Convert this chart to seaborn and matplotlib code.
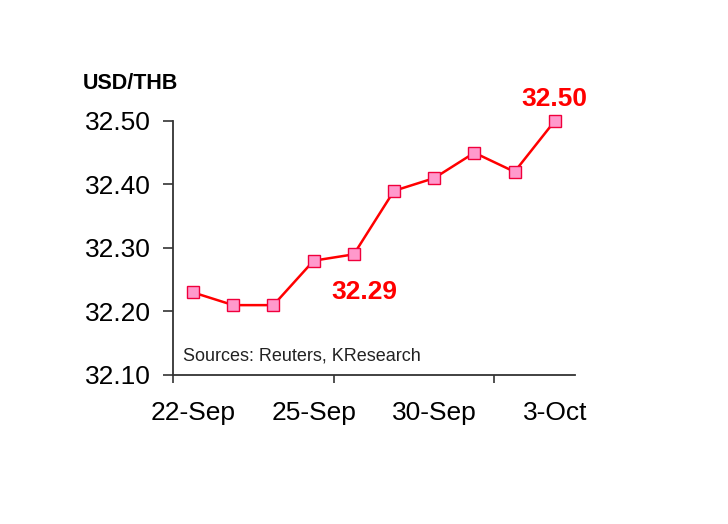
import numpy as np
import pandas as pd
import matplotlib
matplotlib.use("Agg")
import matplotlib.pyplot as plt
import seaborn as sns

# Datos USD/THB
fechas = ["22-Sep", "23-Sep", "24-Sep", "25-Sep", "26-Sep",
          "29-Sep", "30-Sep", "1-Oct", "2-Oct", "3-Oct"]
valores = [32.23, 32.21, 32.21, 32.28, 32.29, 32.39, 32.41, 32.45, 32.42, 32.50]
etiquetas_x = ["22-Sep", "25-Sep", "30-Sep", "3-Oct"]
yticks = [32.10, 32.20, 32.30, 32.40, 32.50]

df = pd.DataFrame({"fecha": fechas, "valor": valores})
df["pos"] = np.arange(len(df))

sns.set_style("white")
plt.rcParams["font.family"] = ["Liberation Sans", "DejaVu Sans"]

fig = plt.figure(figsize=(7.28, 5.24), dpi=100)
ax = fig.add_axes([0.2376, 0.2844, 0.552, 0.4847])

sns.lineplot(data=df, x="pos", y="valor", ax=ax, color="#FF0000", linewidth=1.8,
             marker="s", markersize=9, markerfacecolor="#FF99CC",
             markeredgecolor="#F0003C", markeredgewidth=1.0, clip_on=False)

ax.set_xlim(-0.5, len(fechas) - 0.5)
ax.set_ylim(32.10, 32.50)
ax.set_xlabel("")
ax.set_ylabel("")

# etiquetas del eje x
pos_labels = [fechas.index(f) for f in etiquetas_x]
ax.set_xticks(pos_labels)
ax.set_xticklabels(etiquetas_x, fontsize=19, color="black")
ax.tick_params(axis="x", which="major", bottom=True, length=0, pad=19)
ax.set_xticks([-0.5, 3.5, 7.5], minor=True)
ax.tick_params(axis="x", which="minor", bottom=True, length=6, width=1.2,
               color="#333333", direction="out")

ax.set_yticks(yticks)
ax.set_yticklabels(["%.2f" % v for v in yticks], fontsize=19, color="black")
ax.tick_params(axis="y", left=True, length=7, width=1.2, color="#333333",
               direction="out", pad=9)

for s in ["top", "right"]:
    ax.spines[s].set_visible(False)
for s in ["left", "bottom"]:
    ax.spines[s].set_color("#333333")
    ax.spines[s].set_linewidth(1.3)

# anotaciones
ax.text(4.25, valores[4] - 0.06, "%.2f" % valores[4], color="#FF0000", fontsize=19,
        fontweight="bold", ha="center", va="center")
ax.text(9, valores[9] + 0.035, "%.2f" % valores[9], color="#FF0000", fontsize=19,
        fontweight="bold", ha="center", va="center")

fig.text(0.114, 0.84, "USD/THB", fontsize=15.5, fontweight="bold", ha="left",
         va="center", color="black")
ax.text(0.025, 0.075, "Sources: Reuters, KResearch", transform=ax.transAxes,
        fontsize=13, color="#222222", ha="left", va="center")

plt.savefig("out.png", dpi=100)
